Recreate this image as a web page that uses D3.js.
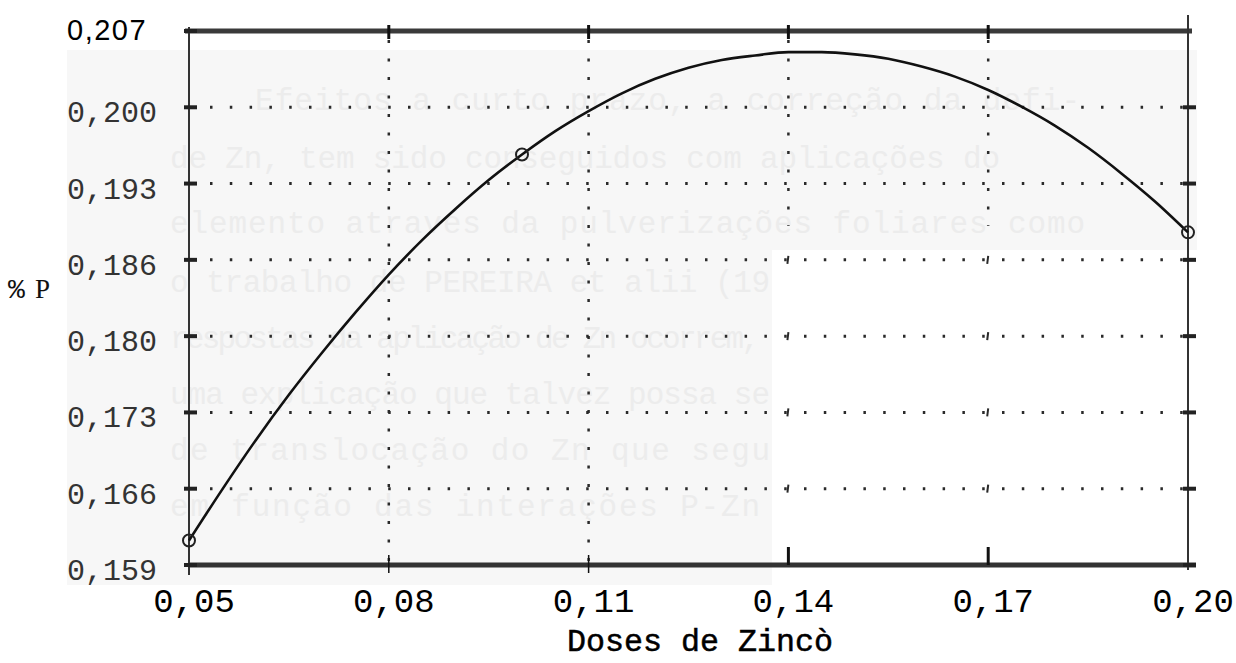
<!DOCTYPE html>
<html>
<head>
<meta charset="utf-8">
<script src="https://cdn.jsdelivr.net/npm/d3@7"></script>
<style>
  html, body { margin: 0; padding: 0; background: #ffffff; }
  svg { display: block; }
</style>
</head>
<body>
<svg id="chart" width="1236" height="663"></svg>
<script>
// Teor de P foliar (%) em função das doses de zinco
const doses = [0.050, 0.055, 0.060, 0.065, 0.070, 0.075, 0.080, 0.085, 0.090, 0.095,
               0.100, 0.105, 0.110, 0.115, 0.120, 0.125, 0.130, 0.135, 0.140, 0.145,
               0.150, 0.155, 0.160, 0.165, 0.170, 0.175, 0.180, 0.185, 0.190, 0.195, 0.200];
const teorP = [0.1612, 0.1658, 0.1702, 0.1743, 0.1781, 0.1817, 0.1851, 0.1882, 0.1910, 0.1936,
               0.1959, 0.1980, 0.1998, 0.2014, 0.2027, 0.2037, 0.2044, 0.2048, 0.2051, 0.2051,
               0.2049, 0.2045, 0.2038, 0.2029, 0.2017, 0.2002, 0.1985, 0.1965, 0.1942, 0.1917, 0.1889];

// observed points marked on the curve
const markerDoses = [0.05, 0.10, 0.20];
const markerP = [0.1612, 0.1959, 0.1889];

const xTickValues = [0.05, 0.08, 0.11, 0.14, 0.17, 0.20];
const xTickLabels = ["0,05", "0,08", "0,11", "0,14", "0,17", "0,20"];
const yTickLabels = ["0,159", "0,166", "0,173", "0,180", "0,186", "0,193", "0,200", "0,207"];

const xTitle = "Doses de Zincò";
const yTitle = ["%", "P"];

// faint paragraph printed behind the figure
const paperLines = [
  "Efeitos a curto prazo, a correção da defi-",
  "de  Zn,  tem sido conseguidos  com  aplicações  do",
  "elemento  através  da  pulverizações  foliares  como",
  "o trabalho de PEREIRA et alii (19",
  "respostas da aplicação de Zn ocorrem,",
  "uma explicação que talvez possa se",
  "de translocação do Zn que segu",
  "em função  das interações P-Zn"
];

const svg = d3.select("#chart");
const mono = "'Liberation Mono', 'DejaVu Sans Mono', monospace";

const x = d3.scaleLinear().domain([0.05, 0.20]).range([189, 1188]);
const y = d3.scaleLinear().domain([0.159, 0.207]).range([565, 31]);

const [y0, y1] = y.domain();
const yTickValues = yTickLabels.map((_, i) => y0 + i * (y1 - y0) / (yTickLabels.length - 1));

// light paper panel
svg.append("path")
  .attr("d", "M67,50 H1197 V250 H772 V585 H67 Z")
  .attr("fill", "#f7f7f7");

// background paragraph
const paperLayout = [
  { x: 255, w: 825, y: 110 },
  { x: 170, w: 830, y: 168 },
  { x: 170, w: 915, y: 233 },
  { x: 170, w: 600, y: 292 },
  { x: 170, w: 590, y: 348 },
  { x: 170, w: 600, y: 404 },
  { x: 170, w: 600, y: 460 },
  { x: 170, w: 590, y: 516 }
];
svg.append("g").selectAll("text")
  .data(paperLines)
  .join("text")
  .attr("x", (d, i) => paperLayout[i].x)
  .attr("y", (d, i) => paperLayout[i].y)
  .attr("textLength", (d, i) => paperLayout[i].w)
  .attr("lengthAdjust", "spacing")
  .attr("font-family", mono)
  .attr("font-size", 31)
  .attr("fill", "#ececec")
  .text(d => d);

// dotted horizontal guides
const inner = yTickValues.slice(1, -1);
svg.append("g").selectAll("line")
  .data(inner)
  .join("line")
  .attr("x1", x.range()[0] + 21).attr("x2", x.range()[1] - 4)
  .attr("y1", d => y(d)).attr("y2", d => y(d))
  .attr("stroke", "#2a2a2a")
  .attr("stroke-width", 3)
  .attr("stroke-dasharray", "2.5,17.3");

// dotted vertical guides (the two right ones fade out below the upper band)
const vGuides = xTickValues.slice(1, -1);
const vGuideEnd = [0.159, 0.159, 0.1895, 0.1895];
svg.append("g").selectAll("line")
  .data(vGuides)
  .join("line")
  .attr("x1", d => x(d)).attr("x2", d => x(d))
  .attr("y1", y(y1) + 9)
  .attr("y2", (d, i) => y(vGuideEnd[i]))
  .attr("stroke", "#2a2a2a")
  .attr("stroke-width", 2.5)
  .attr("stroke-dasharray", "3,15.5");

// small crossing marks where guides meet below the band
svg.append("g").selectAll("line")
  .data(vGuides.slice(2).flatMap(v => inner.slice(0, 4).map(h => [v, h])))
  .join("line")
  .attr("x1", d => x(d[0])).attr("x2", d => x(d[0]) - 1)
  .attr("y1", d => y(d[1]) - 4).attr("y2", d => y(d[1]) + 4)
  .attr("stroke", "#2a2a2a")
  .attr("stroke-width", 2);

// frame: heavy top and bottom rules, thin side axes
svg.append("line")
  .attr("x1", 185).attr("x2", 1192)
  .attr("y1", y(y1)).attr("y2", y(y1))
  .attr("stroke", "#3a3a3a").attr("stroke-width", 5);
svg.append("line")
  .attr("x1", 189).attr("x2", 1196)
  .attr("y1", y(y0)).attr("y2", y(y0))
  .attr("stroke", "#333").attr("stroke-width", 5);
svg.append("line")
  .attr("x1", x(0.05)).attr("x2", x(0.05))
  .attr("y1", y(y1) - 4).attr("y2", y(y0) + 10)
  .attr("stroke", "#333").attr("stroke-width", 2);
svg.append("line")
  .attr("x1", x(0.20)).attr("x2", x(0.20))
  .attr("y1", y(y1) - 16).attr("y2", y(y0) + 5)
  .attr("stroke", "#333").attr("stroke-width", 2);

// y tick dashes on both sides
[x(0.05), x(0.20)].forEach(cx => {
  svg.append("g").selectAll("line")
    .data(yTickValues.slice(0, -1).concat(cx === x(0.05) ? [y1] : []))
    .join("line")
    .attr("x1", cx - 5).attr("x2", cx + 8)
    .attr("y1", d => y(d)).attr("y2", d => y(d))
    .attr("stroke", "#222").attr("stroke-width", 4);
});

// x tick marks on the top rule and at the bottom
svg.append("g").selectAll("line")
  .data(vGuides)
  .join("line")
  .attr("x1", d => x(d)).attr("x2", d => x(d))
  .attr("y1", y(y1) - 6).attr("y2", y(y1) + 8)
  .attr("stroke", "#111").attr("stroke-width", 3);
svg.append("g").selectAll("line")
  .data(vGuides)
  .join("line")
  .attr("x1", d => x(d)).attr("x2", d => x(d))
  .attr("y1", (d, i) => i < 2 ? y(y0) - 10 : y(y0) - 18)
  .attr("y2", (d, i) => i < 2 ? y(y0) + 8 : y(y0))
  .attr("stroke", "#111").attr("stroke-width", (d, i) => i < 2 ? 1.5 : 3);

// response curve
const line = d3.line()
  .x((d, i) => x(doses[i]))
  .y(d => y(d))
  .curve(d3.curveMonotoneX);
svg.append("path")
  .datum(teorP)
  .attr("d", line)
  .attr("fill", "none")
  .attr("stroke", "#111")
  .attr("stroke-width", 2.6)
  .attr("stroke-linejoin", "round");

// point markers
svg.append("g").selectAll("circle")
  .data(markerP)
  .join("circle")
  .attr("cx", (d, i) => x(markerDoses[i]))
  .attr("cy", d => y(d))
  .attr("r", 6)
  .attr("fill", "none")
  .attr("stroke", "#222")
  .attr("stroke-width", 2);

// y tick labels
svg.append("g").selectAll("text")
  .data(yTickValues)
  .join("text")
  .attr("x", 67)
  .attr("y", (d, i) => i === yTickValues.length - 1 ? y(d) + 9 : y(d) + 15)
  .attr("font-family", (d, i) => i === yTickValues.length - 1 ? "'Liberation Sans', Arial, sans-serif" : mono)
  .attr("font-size", (d, i) => i === yTickValues.length - 1 ? 29 : 30)
  .attr("letter-spacing", (d, i) => i === yTickValues.length - 1 ? 1.5 : 0)
  .attr("fill", (d, i) => i === yTickValues.length - 1 ? "#000" : "#333")
  .text((d, i) => yTickLabels[i]);

// x tick labels
svg.append("g").selectAll("text")
  .data(xTickValues)
  .join("text")
  .attr("x", d => x(d) + 5)
  .attr("y", 612)
  .attr("text-anchor", "middle")
  .attr("font-family", mono)
  .attr("font-size", 34)
  .attr("fill", "#000")
  .text((d, i) => xTickLabels[i]);

// axis titles
svg.append("text")
  .attr("x", 567).attr("y", 651)
  .attr("textLength", 266)
  .attr("lengthAdjust", "spacingAndGlyphs")
  .attr("font-family", mono)
  .attr("font-size", 31)
  .attr("fill", "#000")
  .attr("stroke", "#000")
  .attr("stroke-width", 0.5)
  .text(xTitle);

const yt = svg.append("text")
  .attr("y", 298)
  .attr("font-family", mono)
  .attr("font-size", 28)
  .attr("fill", "#111");
yt.append("tspan").attr("x", 8).text(yTitle[0]);
yt.append("tspan").attr("x", 35).attr("font-family", "'Liberation Serif', serif").attr("font-size", 27).text(yTitle[1]);
</script>
</body>
</html>
